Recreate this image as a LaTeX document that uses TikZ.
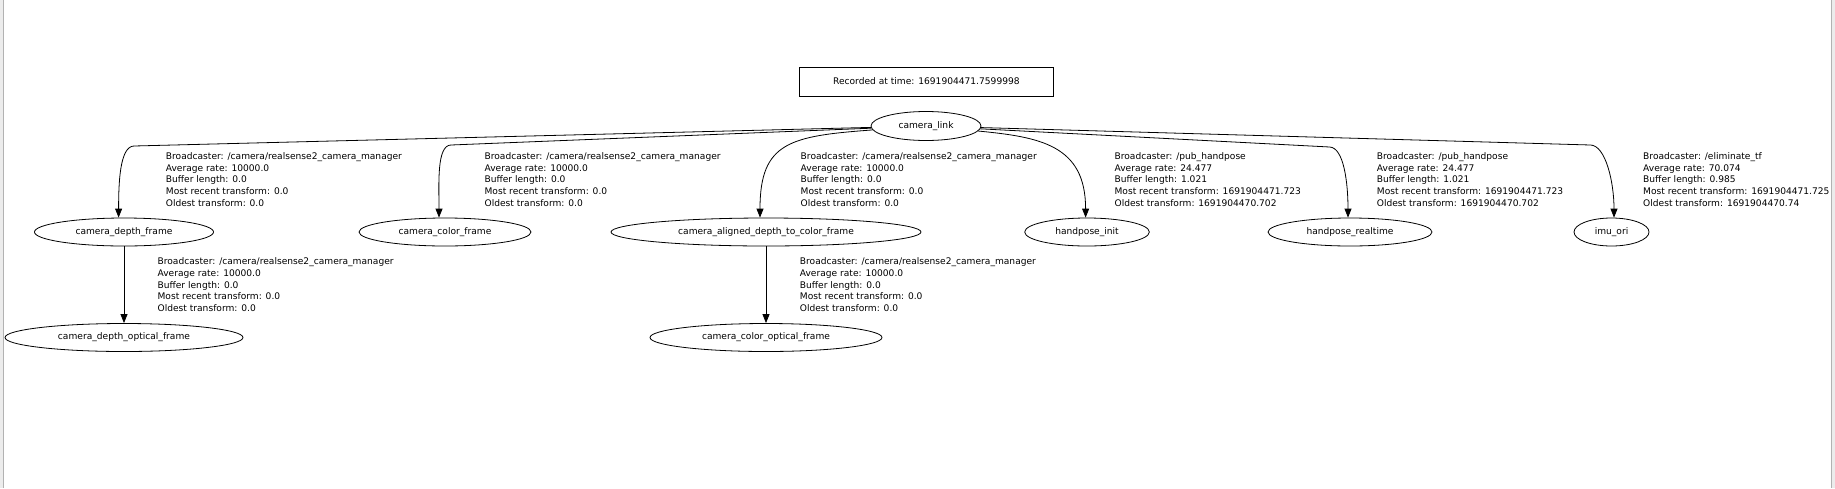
\documentclass[tikz,border=0pt]{standalone}
\usepackage{fontspec}
\setmainfont{DejaVu Sans}
\usetikzlibrary{arrows.meta,positioning,shapes.geometric}

\newcommand{\rsinfo}{Broadcaster: /camera/realsense2\_camera\_manager\\Average rate: 10000.0\\Buffer length: 0.0\\Most recent transform: 0.0\\Oldest transform: 0.0}
\newcommand{\hpinfo}{Broadcaster: /pub\_handpose\\Average rate: 24.477\\Buffer length: 1.021\\Most recent transform: 1691904471.723\\Oldest transform: 1691904470.702}

\begin{document}
\begin{tikzpicture}[x=1pt,y=1pt,font=\fontsize{9.1}{11.6}\selectfont,
    tfnode/.style={draw,ellipse,inner sep=0pt,minimum height=28pt,line width=0.8pt},
    tf/.style={-{Triangle[length=9pt,width=7pt]},line width=0.8pt},
    info/.style={right,align=left,inner sep=0pt}]
    \useasboundingbox (0,0) rectangle (1835,-488);

    % window edges
    \fill[gray!15] (0,0) rectangle (3,-488);
    \fill[gray!15] (1832,0) rectangle (1835,-488);
    \draw[gray!60] (3.5,0) -- (3.5,-488);
    \draw[gray!60] (1831.5,0) -- (1831.5,-488);

    \node[draw,minimum width=253.5pt,minimum height=29pt,line width=0.8pt] (stamp) at (926.4,-81.5) {Recorded at time: 1691904471.7599998};

    \node[tfnode,minimum width=110pt,minimum height=29pt] (link) at (926,-126) {camera\_link};

    \node[tfnode,minimum width=179pt] (depth) at (124,-232) {camera\_depth\_frame};
    \node[tfnode,minimum width=172pt] (color) at (445,-232) {camera\_color\_frame};
    \node[tfnode,minimum width=310pt] (aligned) at (766,-232) {camera\_aligned\_depth\_to\_color\_frame};
    \node[tfnode,minimum width=124.6pt] (hinit) at (1087,-232) {handpose\_init};
    \node[tfnode,minimum width=164pt] (hreal) at (1350,-232) {handpose\_realtime};
    \node[tfnode,minimum width=75pt] (imu) at (1611.5,-232) {imu\_ori};

    \node[tfnode,minimum width=238pt] (depthopt) at (124,-337.5) {camera\_depth\_optical\_frame};
    \node[tfnode,minimum width=232pt] (coloropt) at (766,-337.5) {camera\_color\_optical\_frame};

    % edges out of camera_link
    \foreach \to/\bx/\by/\ang/\dx in {depth/134/146/181/-5.4,color/451/145/181/-6,hreal/1329.7/147/-3/-2,imu/1590.6/145/-2/2.5}
    \draw[tf] (link) -- (\bx,-\by) to[out=\ang,in=90,out looseness=0.5,in looseness=1.2] ([xshift=\dx pt]\to.north);
    \draw[tf] (link) .. controls (790,-136) and (760,-142) .. ([xshift=-6pt]aligned.north);
    \draw[tf] (link) .. controls (1040,-137) and (1085.6,-145) .. ([xshift=-1.4pt]hinit.north);

    \foreach \from/\to in {depth/depthopt,aligned/coloropt}
    \draw[tf] (\from)--(\to);

    % transform info
    \node[info] (info1) at (165.7,-179.5) {\rsinfo};
    \node[info] (info2) at (484.4,-179.5) {\rsinfo};
    \node[info] (info3) at (800.5,-179.5) {\rsinfo};
    \node[info] (info4) at (1114.4,-179.5) {\hpinfo};
    \node[info] (info5) at (1376.7,-179.5) {\hpinfo};
    \node[info] (info6) at (1643,-179.5) {Broadcaster: /eliminate\_tf\\Average rate: 70.074\\Buffer length: 0.985\\Most recent transform: 1691904471.725\\Oldest transform: 1691904470.74};
    \node[info] (info7) at (157.4,-284.7) {\rsinfo};
    \node[info] (info8) at (799.7,-284.7) {\rsinfo};
\end{tikzpicture}
\end{document}
